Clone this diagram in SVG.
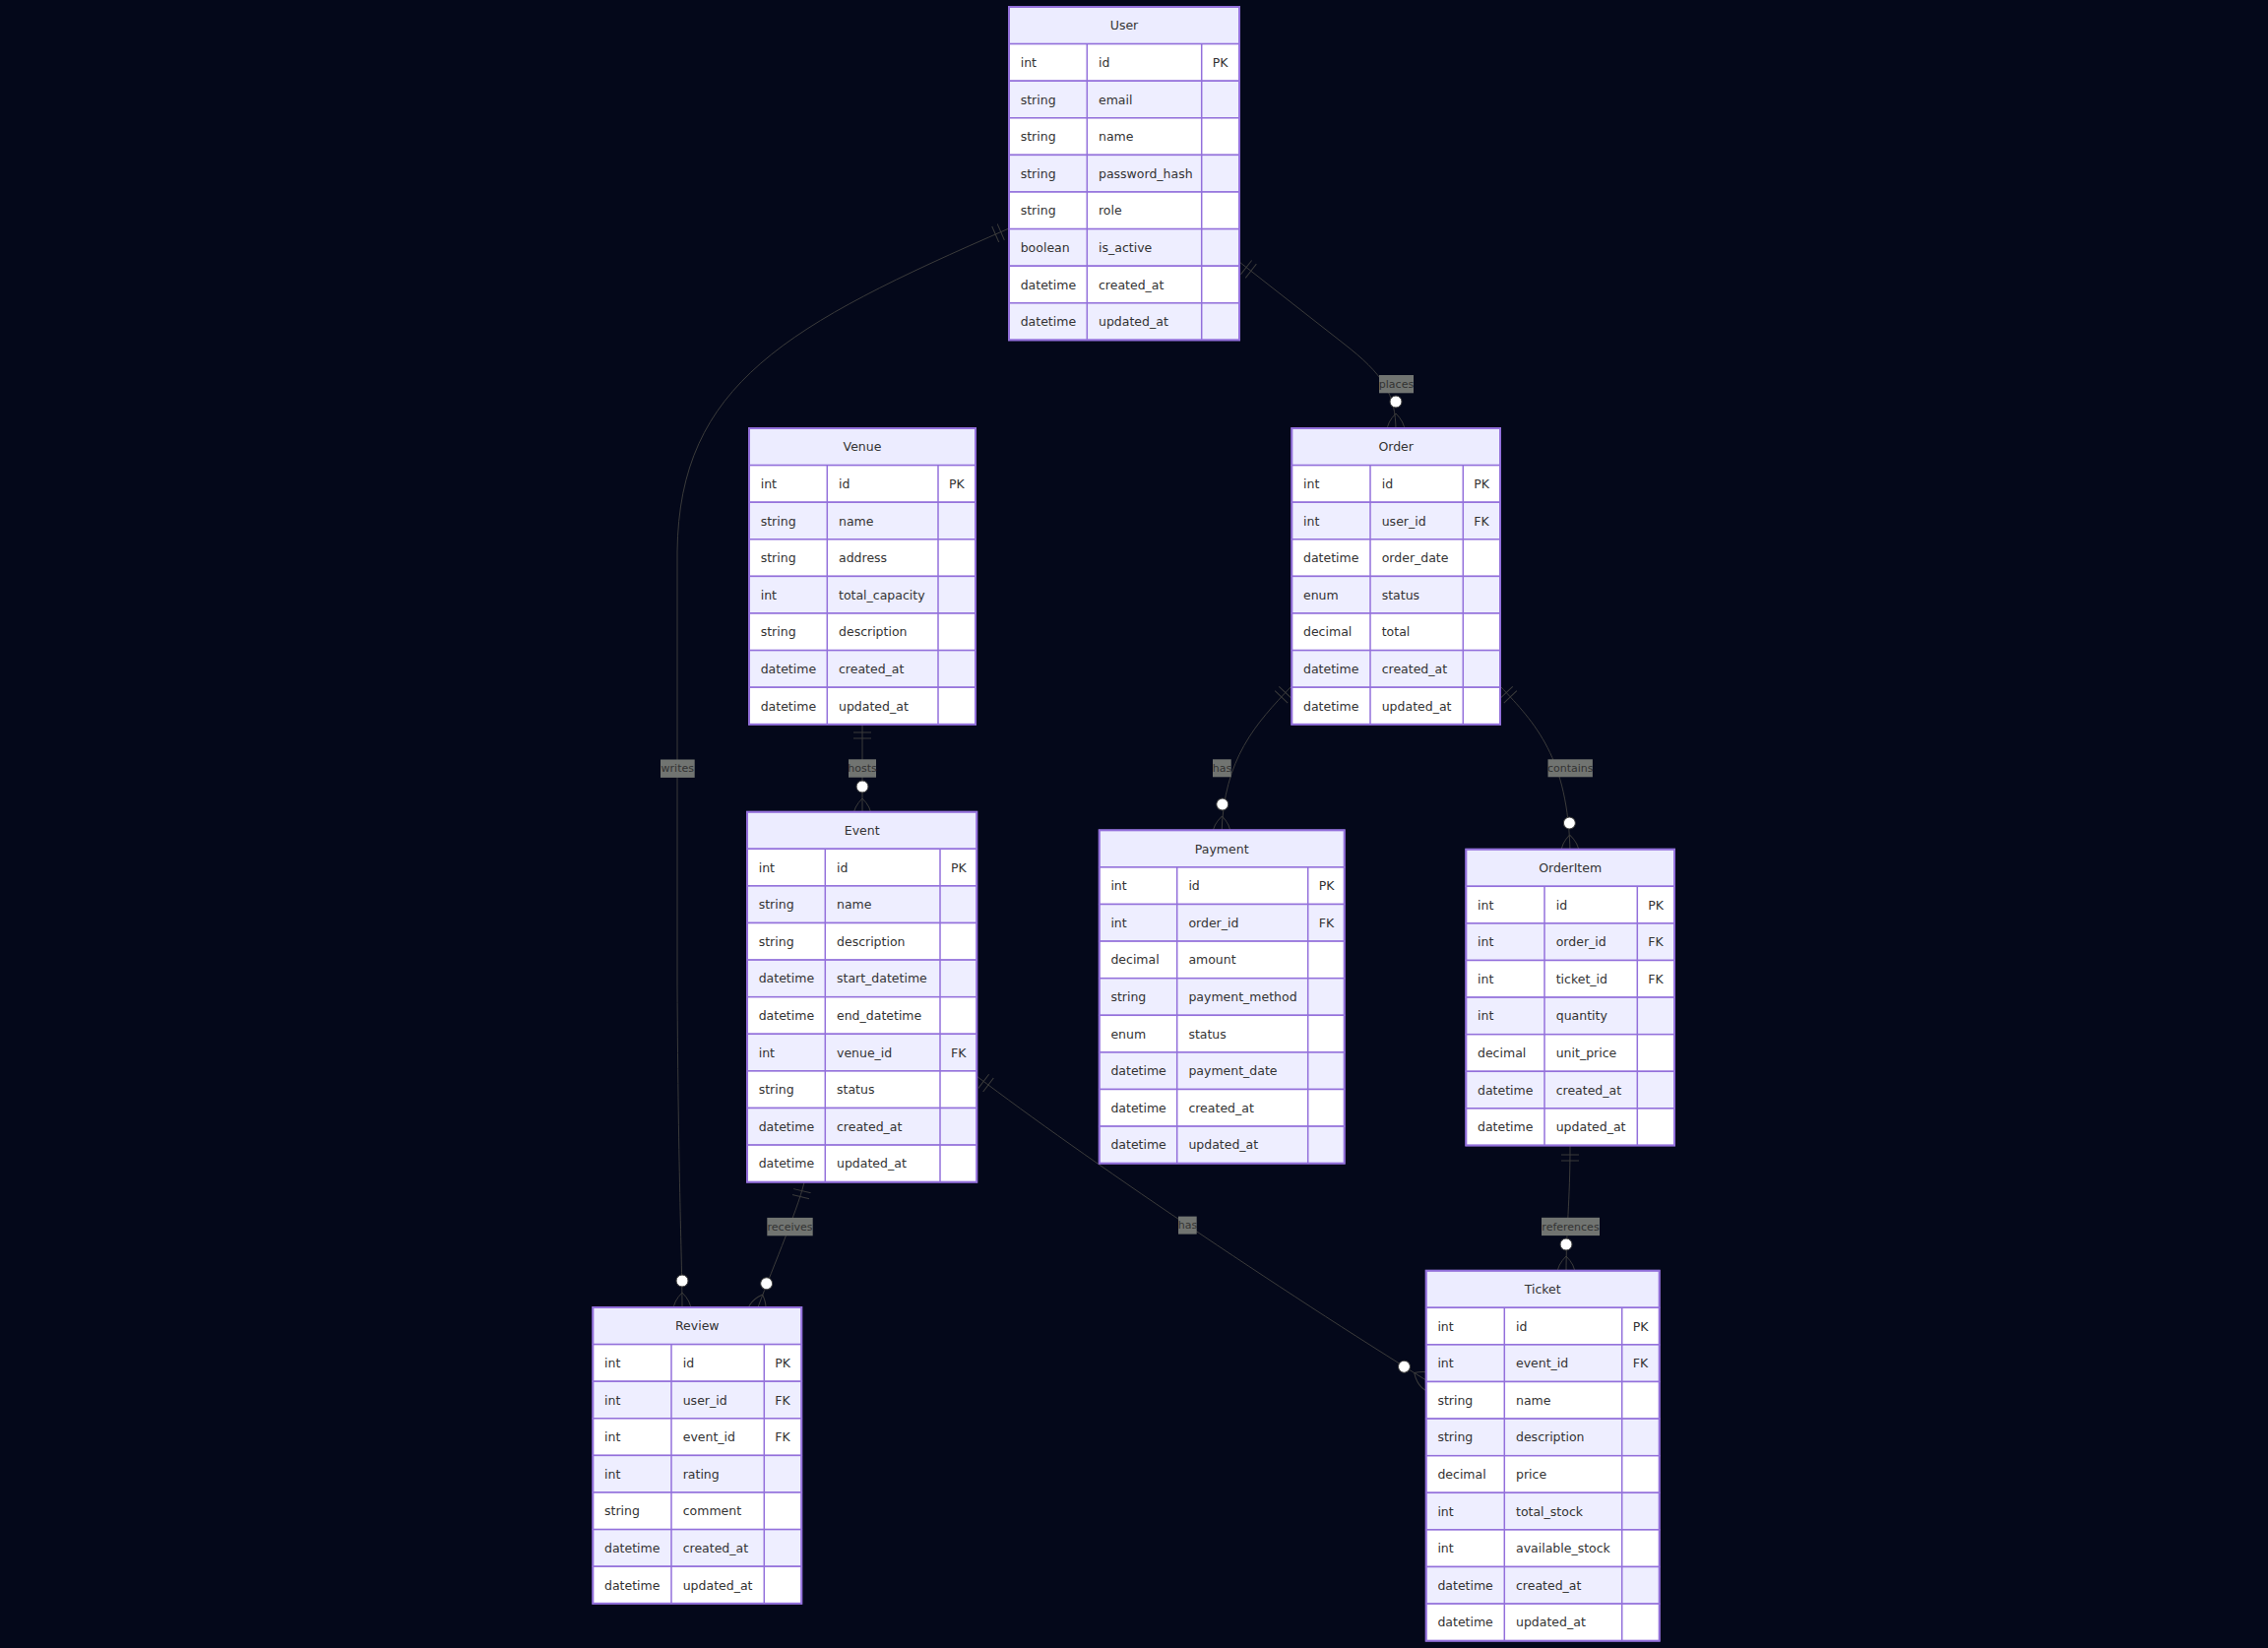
<svg xmlns="http://www.w3.org/2000/svg" width="2304" height="1674" viewBox="0 0 2304 1674">
<defs>
<style>
.bg{fill:#04081a}
.hd{fill:#ECECFF;stroke:#9370DB;stroke-width:1.5}
.ro{fill:#FFFFFF;stroke:#9370DB;stroke-width:1.5}
.re{fill:#EEEEFF;stroke:#9370DB;stroke-width:1.5}
.cl{stroke:#9370DB;stroke-width:1.5}
.ob{fill:none;stroke:#9370DB;stroke-width:2}
.t{font-family:"DejaVu Sans",sans-serif;font-size:12.5px;fill:#333333;dominant-baseline:central}
.h{text-anchor:middle}
.rel{fill:none;stroke:#3b3b3b;stroke-width:1;marker-start:url(#oneStart);marker-end:url(#zeroMoreEnd)}
.lb{fill:#717471}
.lt{font-family:"DejaVu Sans",sans-serif;font-size:11px;fill:#333333;text-anchor:middle;dominant-baseline:central}
</style>
<marker id="oneStart" refX="0" refY="9" markerWidth="18" markerHeight="18" orient="auto" markerUnits="userSpaceOnUse">
<path d="M9,0 L9,18 M15,0 L15,18" stroke="#3b3b3b" fill="none"/>
</marker>
<marker id="zeroMoreEnd" refX="39" refY="18" markerWidth="57" markerHeight="36" orient="auto" markerUnits="userSpaceOnUse">
<circle cx="9" cy="18" r="6" fill="#ffffff" stroke="#3b3b3b"/>
<path d="M21,18 Q39,0 57,18 Q39,36 21,18" fill="none" stroke="#3b3b3b"/>
</marker>
</defs>
<rect class="bg" x="0" y="0" width="2304" height="1674"/>

<g id="connectors">
<path id="writes" class="rel" d="M1025,232 C800,330 690,390 688,560 L688,1000 C689,1200 693,1280 693,1331"/>
<path id="places" class="rel" d="M1259,266 L1365,349 C1405,380 1418,400 1418,438"/>
<path id="hosts" class="rel" d="M876,735 L876,829"/>
<path id="has-payment" class="rel" d="M1312,697 C1276,735 1243,770 1241,847"/>
<path id="contains" class="rel" d="M1524,697 C1560,735 1593,770 1595,866"/>
<path id="receives" class="rel" d="M817,1201 C810,1230 780,1300 768.5,1332"/>
<path id="has-ticket" class="rel" d="M992,1093 C1100,1175 1300,1310 1452,1404"/>
<path id="references" class="rel" d="M1595,1164 C1595,1220 1591,1250 1591,1294"/>
<g id="labels">
<rect class="lb" x="671" y="771.5" width="34.7" height="18.4"/><text class="lt" x="688.3" y="780.7">writes</text>
<rect class="lb" x="1401" y="381" width="35" height="18.3"/><text class="lt" x="1418.5" y="390.2">places</text>
<rect class="lb" x="862" y="771.3" width="28" height="18.4"/><text class="lt" x="876" y="780.5">hosts</text>
<rect class="lb" x="1232" y="771.3" width="18.7" height="18"/><text class="lt" x="1241.4" y="780.3">has</text>
<rect class="lb" x="1572.5" y="771.3" width="45.4" height="18"/><text class="lt" x="1595.2" y="780.3">contains</text>
<rect class="lb" x="779.3" y="1236.9" width="46.4" height="18.4"/><text class="lt" x="802.5" y="1246.1">receives</text>
<rect class="lb" x="1197" y="1235.6" width="18.7" height="18"/><text class="lt" x="1206.4" y="1244.6">has</text>
<rect class="lb" x="1566" y="1236.8" width="59" height="18.3"/><text class="lt" x="1595.5" y="1246">references</text>
</g>
</g>

<g id="User" transform="translate(1025,7)">
<rect class="hd" x="0" y="0" width="234" height="37.6"/>
<rect class="ro" x="0" y="37.6" width="234" height="37.6"/>
<rect class="re" x="0" y="75.2" width="234" height="37.6"/>
<rect class="ro" x="0" y="112.8" width="234" height="37.6"/>
<rect class="re" x="0" y="150.4" width="234" height="37.6"/>
<rect class="ro" x="0" y="188" width="234" height="37.6"/>
<rect class="re" x="0" y="225.6" width="234" height="37.6"/>
<rect class="ro" x="0" y="263.2" width="234" height="37.6"/>
<rect class="re" x="0" y="300.8" width="234" height="37.6"/>
<line class="cl" x1="79.3" y1="37.6" x2="79.3" y2="338.4"/>
<line class="cl" x1="195.7" y1="37.6" x2="195.7" y2="338.4"/>
<rect class="ob" x="0" y="0" width="234" height="338.4"/>
<text class="t h" x="117" y="18.8">User</text>
<text class="t" x="11.7" y="56.4">int</text><text class="t" x="91" y="56.4">id</text><text class="t" x="206.7" y="56.4">PK</text>
<text class="t" x="11.7" y="94">string</text><text class="t" x="91" y="94">email</text>
<text class="t" x="11.7" y="131.6">string</text><text class="t" x="91" y="131.6">name</text>
<text class="t" x="11.7" y="169.2">string</text><text class="t" x="91" y="169.2">password_hash</text>
<text class="t" x="11.7" y="206.8">string</text><text class="t" x="91" y="206.8">role</text>
<text class="t" x="11.7" y="244.4">boolean</text><text class="t" x="91" y="244.4">is_active</text>
<text class="t" x="11.7" y="282">datetime</text><text class="t" x="91" y="282">created_at</text>
<text class="t" x="11.7" y="319.6">datetime</text><text class="t" x="91" y="319.6">updated_at</text>
</g>

<g id="Venue" transform="translate(761,435)">
<rect class="hd" x="0" y="0" width="230" height="37.6"/>
<rect class="ro" x="0" y="37.6" width="230" height="37.6"/>
<rect class="re" x="0" y="75.2" width="230" height="37.6"/>
<rect class="ro" x="0" y="112.8" width="230" height="37.6"/>
<rect class="re" x="0" y="150.4" width="230" height="37.6"/>
<rect class="ro" x="0" y="188" width="230" height="37.6"/>
<rect class="re" x="0" y="225.6" width="230" height="37.6"/>
<rect class="ro" x="0" y="263.2" width="230" height="37.6"/>
<line class="cl" x1="79.3" y1="37.6" x2="79.3" y2="300.8"/>
<line class="cl" x1="192" y1="37.6" x2="192" y2="300.8"/>
<rect class="ob" x="0" y="0" width="230" height="300.8"/>
<text class="t h" x="115" y="18.8">Venue</text>
<text class="t" x="11.7" y="56.4">int</text><text class="t" x="91" y="56.4">id</text><text class="t" x="203" y="56.4">PK</text>
<text class="t" x="11.7" y="94">string</text><text class="t" x="91" y="94">name</text>
<text class="t" x="11.7" y="131.6">string</text><text class="t" x="91" y="131.6">address</text>
<text class="t" x="11.7" y="169.2">int</text><text class="t" x="91" y="169.2">total_capacity</text>
<text class="t" x="11.7" y="206.8">string</text><text class="t" x="91" y="206.8">description</text>
<text class="t" x="11.7" y="244.4">datetime</text><text class="t" x="91" y="244.4">created_at</text>
<text class="t" x="11.7" y="282">datetime</text><text class="t" x="91" y="282">updated_at</text>
</g>

<g id="Order" transform="translate(1312.3,435)">
<rect class="hd" x="0" y="0" width="211.7" height="37.6"/>
<rect class="ro" x="0" y="37.6" width="211.7" height="37.6"/>
<rect class="re" x="0" y="75.2" width="211.7" height="37.6"/>
<rect class="ro" x="0" y="112.8" width="211.7" height="37.6"/>
<rect class="re" x="0" y="150.4" width="211.7" height="37.6"/>
<rect class="ro" x="0" y="188" width="211.7" height="37.6"/>
<rect class="re" x="0" y="225.6" width="211.7" height="37.6"/>
<rect class="ro" x="0" y="263.2" width="211.7" height="37.6"/>
<line class="cl" x1="79.7" y1="37.6" x2="79.7" y2="300.8"/>
<line class="cl" x1="174" y1="37.6" x2="174" y2="300.8"/>
<rect class="ob" x="0" y="0" width="211.7" height="300.8"/>
<text class="t h" x="105.85" y="18.8">Order</text>
<text class="t" x="11.7" y="56.4">int</text><text class="t" x="91.4" y="56.4">id</text><text class="t" x="185" y="56.4">PK</text>
<text class="t" x="11.7" y="94">int</text><text class="t" x="91.4" y="94">user_id</text><text class="t" x="185" y="94">FK</text>
<text class="t" x="11.7" y="131.6">datetime</text><text class="t" x="91.4" y="131.6">order_date</text>
<text class="t" x="11.7" y="169.2">enum</text><text class="t" x="91.4" y="169.2">status</text>
<text class="t" x="11.7" y="206.8">decimal</text><text class="t" x="91.4" y="206.8">total</text>
<text class="t" x="11.7" y="244.4">datetime</text><text class="t" x="91.4" y="244.4">created_at</text>
<text class="t" x="11.7" y="282">datetime</text><text class="t" x="91.4" y="282">updated_at</text>
</g>

<g id="Event" transform="translate(759,824.7)">
<rect class="hd" x="0" y="0" width="233.3" height="37.6"/>
<rect class="ro" x="0" y="37.6" width="233.3" height="37.6"/>
<rect class="re" x="0" y="75.2" width="233.3" height="37.6"/>
<rect class="ro" x="0" y="112.8" width="233.3" height="37.6"/>
<rect class="re" x="0" y="150.4" width="233.3" height="37.6"/>
<rect class="ro" x="0" y="188" width="233.3" height="37.6"/>
<rect class="re" x="0" y="225.6" width="233.3" height="37.6"/>
<rect class="ro" x="0" y="263.2" width="233.3" height="37.6"/>
<rect class="re" x="0" y="300.8" width="233.3" height="37.6"/>
<rect class="ro" x="0" y="338.4" width="233.3" height="37.6"/>
<line class="cl" x1="79.3" y1="37.6" x2="79.3" y2="376"/>
<line class="cl" x1="196" y1="37.6" x2="196" y2="376"/>
<rect class="ob" x="0" y="0" width="233.3" height="376"/>
<text class="t h" x="116.65" y="18.8">Event</text>
<text class="t" x="11.7" y="56.4">int</text><text class="t" x="91" y="56.4">id</text><text class="t" x="207" y="56.4">PK</text>
<text class="t" x="11.7" y="94">string</text><text class="t" x="91" y="94">name</text>
<text class="t" x="11.7" y="131.6">string</text><text class="t" x="91" y="131.6">description</text>
<text class="t" x="11.7" y="169.2">datetime</text><text class="t" x="91" y="169.2">start_datetime</text>
<text class="t" x="11.7" y="206.8">datetime</text><text class="t" x="91" y="206.8">end_datetime</text>
<text class="t" x="11.7" y="244.4">int</text><text class="t" x="91" y="244.4">venue_id</text><text class="t" x="207" y="244.4">FK</text>
<text class="t" x="11.7" y="282">string</text><text class="t" x="91" y="282">status</text>
<text class="t" x="11.7" y="319.6">datetime</text><text class="t" x="91" y="319.6">created_at</text>
<text class="t" x="11.7" y="357.2">datetime</text><text class="t" x="91" y="357.2">updated_at</text>
</g>

<g id="Payment" transform="translate(1116.7,843.3)">
<rect class="hd" x="0" y="0" width="249" height="37.6"/>
<rect class="ro" x="0" y="37.6" width="249" height="37.6"/>
<rect class="re" x="0" y="75.2" width="249" height="37.6"/>
<rect class="ro" x="0" y="112.8" width="249" height="37.6"/>
<rect class="re" x="0" y="150.4" width="249" height="37.6"/>
<rect class="ro" x="0" y="188" width="249" height="37.6"/>
<rect class="re" x="0" y="225.6" width="249" height="37.6"/>
<rect class="ro" x="0" y="263.2" width="249" height="37.6"/>
<rect class="re" x="0" y="300.8" width="249" height="37.6"/>
<line class="cl" x1="79" y1="37.6" x2="79" y2="338.4"/>
<line class="cl" x1="212" y1="37.6" x2="212" y2="338.4"/>
<rect class="ob" x="0" y="0" width="249" height="338.4"/>
<text class="t h" x="124.5" y="18.8">Payment</text>
<text class="t" x="11.7" y="56.4">int</text><text class="t" x="90.7" y="56.4">id</text><text class="t" x="223" y="56.4">PK</text>
<text class="t" x="11.7" y="94">int</text><text class="t" x="90.7" y="94">order_id</text><text class="t" x="223" y="94">FK</text>
<text class="t" x="11.7" y="131.6">decimal</text><text class="t" x="90.7" y="131.6">amount</text>
<text class="t" x="11.7" y="169.2">string</text><text class="t" x="90.7" y="169.2">payment_method</text>
<text class="t" x="11.7" y="206.8">enum</text><text class="t" x="90.7" y="206.8">status</text>
<text class="t" x="11.7" y="244.4">datetime</text><text class="t" x="90.7" y="244.4">payment_date</text>
<text class="t" x="11.7" y="282">datetime</text><text class="t" x="90.7" y="282">created_at</text>
<text class="t" x="11.7" y="319.6">datetime</text><text class="t" x="90.7" y="319.6">updated_at</text>
</g>

<g id="OrderItem" transform="translate(1489.3,862.7)">
<rect class="hd" x="0" y="0" width="211.7" height="37.6"/>
<rect class="ro" x="0" y="37.6" width="211.7" height="37.6"/>
<rect class="re" x="0" y="75.2" width="211.7" height="37.6"/>
<rect class="ro" x="0" y="112.8" width="211.7" height="37.6"/>
<rect class="re" x="0" y="150.4" width="211.7" height="37.6"/>
<rect class="ro" x="0" y="188" width="211.7" height="37.6"/>
<rect class="re" x="0" y="225.6" width="211.7" height="37.6"/>
<rect class="ro" x="0" y="263.2" width="211.7" height="37.6"/>
<line class="cl" x1="79.7" y1="37.6" x2="79.7" y2="300.8"/>
<line class="cl" x1="174" y1="37.6" x2="174" y2="300.8"/>
<rect class="ob" x="0" y="0" width="211.7" height="300.8"/>
<text class="t h" x="105.85" y="18.8">OrderItem</text>
<text class="t" x="11.7" y="56.4">int</text><text class="t" x="91.4" y="56.4">id</text><text class="t" x="185" y="56.4">PK</text>
<text class="t" x="11.7" y="94">int</text><text class="t" x="91.4" y="94">order_id</text><text class="t" x="185" y="94">FK</text>
<text class="t" x="11.7" y="131.6">int</text><text class="t" x="91.4" y="131.6">ticket_id</text><text class="t" x="185" y="131.6">FK</text>
<text class="t" x="11.7" y="169.2">int</text><text class="t" x="91.4" y="169.2">quantity</text>
<text class="t" x="11.7" y="206.8">decimal</text><text class="t" x="91.4" y="206.8">unit_price</text>
<text class="t" x="11.7" y="244.4">datetime</text><text class="t" x="91.4" y="244.4">created_at</text>
<text class="t" x="11.7" y="282">datetime</text><text class="t" x="91.4" y="282">updated_at</text>
</g>

<g id="Review" transform="translate(602.3,1328)">
<rect class="hd" x="0" y="0" width="212" height="37.6"/>
<rect class="ro" x="0" y="37.6" width="212" height="37.6"/>
<rect class="re" x="0" y="75.2" width="212" height="37.6"/>
<rect class="ro" x="0" y="112.8" width="212" height="37.6"/>
<rect class="re" x="0" y="150.4" width="212" height="37.6"/>
<rect class="ro" x="0" y="188" width="212" height="37.6"/>
<rect class="re" x="0" y="225.6" width="212" height="37.6"/>
<rect class="ro" x="0" y="263.2" width="212" height="37.6"/>
<line class="cl" x1="79.7" y1="37.6" x2="79.7" y2="300.8"/>
<line class="cl" x1="174" y1="37.6" x2="174" y2="300.8"/>
<rect class="ob" x="0" y="0" width="212" height="300.8"/>
<text class="t h" x="106" y="18.8">Review</text>
<text class="t" x="11.7" y="56.4">int</text><text class="t" x="91.4" y="56.4">id</text><text class="t" x="185" y="56.4">PK</text>
<text class="t" x="11.7" y="94">int</text><text class="t" x="91.4" y="94">user_id</text><text class="t" x="185" y="94">FK</text>
<text class="t" x="11.7" y="131.6">int</text><text class="t" x="91.4" y="131.6">event_id</text><text class="t" x="185" y="131.6">FK</text>
<text class="t" x="11.7" y="169.2">int</text><text class="t" x="91.4" y="169.2">rating</text>
<text class="t" x="11.7" y="206.8">string</text><text class="t" x="91.4" y="206.8">comment</text>
<text class="t" x="11.7" y="244.4">datetime</text><text class="t" x="91.4" y="244.4">created_at</text>
<text class="t" x="11.7" y="282">datetime</text><text class="t" x="91.4" y="282">updated_at</text>
</g>

<g id="Ticket" transform="translate(1448.7,1290.7)">
<rect class="hd" x="0" y="0" width="237" height="37.6"/>
<rect class="ro" x="0" y="37.6" width="237" height="37.6"/>
<rect class="re" x="0" y="75.2" width="237" height="37.6"/>
<rect class="ro" x="0" y="112.8" width="237" height="37.6"/>
<rect class="re" x="0" y="150.4" width="237" height="37.6"/>
<rect class="ro" x="0" y="188" width="237" height="37.6"/>
<rect class="re" x="0" y="225.6" width="237" height="37.6"/>
<rect class="ro" x="0" y="263.2" width="237" height="37.6"/>
<rect class="re" x="0" y="300.8" width="237" height="37.6"/>
<rect class="ro" x="0" y="338.4" width="237" height="37.6"/>
<line class="cl" x1="79.6" y1="37.6" x2="79.6" y2="376"/>
<line class="cl" x1="199" y1="37.6" x2="199" y2="376"/>
<rect class="ob" x="0" y="0" width="237" height="376"/>
<text class="t h" x="118.5" y="18.8">Ticket</text>
<text class="t" x="11.7" y="56.4">int</text><text class="t" x="91.3" y="56.4">id</text><text class="t" x="210" y="56.4">PK</text>
<text class="t" x="11.7" y="94">int</text><text class="t" x="91.3" y="94">event_id</text><text class="t" x="210" y="94">FK</text>
<text class="t" x="11.7" y="131.6">string</text><text class="t" x="91.3" y="131.6">name</text>
<text class="t" x="11.7" y="169.2">string</text><text class="t" x="91.3" y="169.2">description</text>
<text class="t" x="11.7" y="206.8">decimal</text><text class="t" x="91.3" y="206.8">price</text>
<text class="t" x="11.7" y="244.4">int</text><text class="t" x="91.3" y="244.4">total_stock</text>
<text class="t" x="11.7" y="282">int</text><text class="t" x="91.3" y="282">available_stock</text>
<text class="t" x="11.7" y="319.6">datetime</text><text class="t" x="91.3" y="319.6">created_at</text>
<text class="t" x="11.7" y="357.2">datetime</text><text class="t" x="91.3" y="357.2">updated_at</text>
</g>
</svg>
